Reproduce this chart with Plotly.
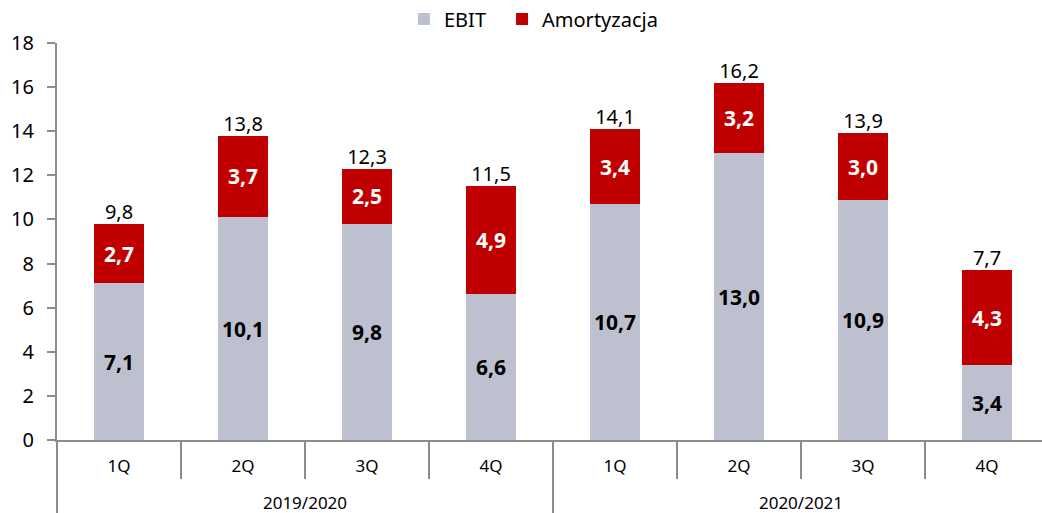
import plotly.graph_objects as go

years = ["2019/2020"] * 4 + ["2020/2021"] * 4
quarters = ["1Q", "2Q", "3Q", "4Q", "1Q", "2Q", "3Q", "4Q"]
ebit = [7.1, 10.1, 9.8, 6.6, 10.7, 13.0, 10.9, 3.4]
amort = [2.7, 3.7, 2.5, 4.9, 3.4, 3.2, 3.0, 4.3]
totals = [9.8, 13.8, 12.3, 11.5, 14.1, 16.2, 13.9, 7.7]
y_ticks = [0, 2, 4, 6, 8, 10, 12, 14, 16, 18]


def fmt(v):
    return f"{v:.1f}".replace(".", ",")


FONT = "Noto Sans"
# extra empty line under quarter labels pushes the year level lower
x = [years, [q + "<br> " for q in quarters]]
AXIS = "#8c8c8c"

fig = go.Figure()
fig.add_trace(go.Bar(
    x=x, y=ebit, name="EBIT", legend="legend",
    marker=dict(color="#bdc0cf", line=dict(width=0)),
    text=[fmt(v) for v in ebit], textposition="inside", insidetextanchor="middle",
    textangle=0, constraintext="none",
    textfont=dict(family=FONT, size=21, color="black", weight="bold"),
    hoverinfo="skip",
))
fig.add_trace(go.Bar(
    x=x, y=amort, name="Amortyzacja", legend="legend2",
    marker=dict(color="#c00000", line=dict(width=0)),
    text=[fmt(v) for v in amort], textposition="inside", insidetextanchor="middle",
    textangle=0, constraintext="none",
    textfont=dict(family=FONT, size=21, color="white", weight="bold"),
    hoverinfo="skip",
))
fig.add_trace(go.Scatter(
    x=x, y=totals, mode="text", text=[fmt(v) for v in totals],
    textposition="top center", showlegend=False, cliponaxis=False,
    textfont=dict(family=FONT, size=20, color="black"),
    hoverinfo="skip",
))

W, H = 1042, 513
leg_common = dict(orientation="h", xref="container", yref="container",
                  xanchor="left", y=1 - 19 / H, yanchor="middle",
                  font=dict(family=FONT, size=20), itemwidth=30,
                  bgcolor="rgba(0,0,0,0)")
fig.update_layout(
    width=W, height=H,
    margin=dict(l=57, r=0, t=43, b=73, autoexpand=False),
    barmode="stack", bargap=0.6,
    plot_bgcolor="white", paper_bgcolor="white",
    font=dict(family=FONT, size=20, color="black"),
    showlegend=True,
    legend=dict(x=0.3877, **leg_common),
    legend2=dict(x=0.4818, **leg_common),
)
fig.update_yaxes(
    range=[0, 18], tickvals=y_ticks, showgrid=False, zeroline=False,
    showline=True, linecolor=AXIS, linewidth=2, automargin=False,
    ticks="outside", ticklen=8, tickcolor=AXIS, tickwidth=2,
    ticklabelstandoff=9,
    tickfont=dict(family=FONT, size=20),
)
fig.update_xaxes(
    type="multicategory", showgrid=False, zeroline=False,
    range=[-0.5, 7.4435], automargin=False,
    showline=True, linecolor=AXIS, linewidth=2,
    ticks="outside", tickson="boundaries", ticklen=37, tickcolor=AXIS, tickwidth=2,
    showdividers=True, dividercolor=AXIS, dividerwidth=2,
    ticklabelstandoff=10,
    tickfont=dict(family=FONT, size=17),
)

fig.write_html("out.html", config={"displayModeBar": False},
               post_script="document.body.style.margin='0';")
